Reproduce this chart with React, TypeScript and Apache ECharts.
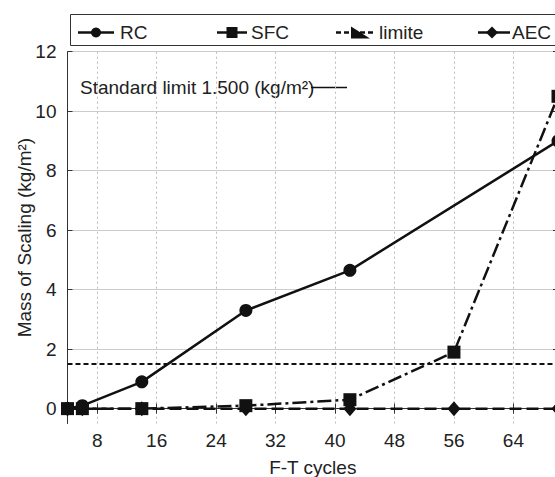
import React, { useEffect, useRef } from "react";
import * as echarts from "echarts";

// Scaling mass per freeze–thaw cycle count, by curing/treatment group
const rcCycles = [4, 6, 14, 28, 42, 70];
const rcMass = [0, 0.1, 0.9, 3.3, 4.65, 9.0];
const sfcCycles = [4, 6, 14, 28, 42, 56, 70];
const sfcMass = [0, 0, 0, 0.1, 0.3, 1.9, 10.5];
const aecCycles = [4, 6, 14, 28, 42, 56, 70];
const aecMass = [0, 0, 0, 0, 0, 0, 0];
const limitCycles = [4, 70];
const limitMass = [1.5, 1.5];

const xTicks = [8, 16, 24, 32, 40, 48, 56, 64];
const yTicks = [0, 2, 4, 6, 8, 10, 12];
const seriesNames = ["RC", "SFC", "limite", "AEC"];
const annotation = "Standard limit 1.500 (kg/m²)";

const FONT = "'Liberation Sans', Arial, Helvetica, sans-serif";
const INK = "#111";

const zip = (xs: number[], ys: number[]) => xs.map((x, i) => [x, ys[i]]);

function buildLegend(): any[] {
  const cy = 32.5;
  const txt = (x: number, s: string) => ({
    type: "text",
    x,
    y: cy,
    style: { text: s, fontSize: 19, fontFamily: FONT, fill: "#222", verticalAlign: "middle" },
  });
  const seg = (x1: number, x2: number, dash?: number[]) => ({
    type: "line",
    shape: { x1, y1: cy, x2, y2: cy },
    style: { stroke: INK, lineWidth: 2.5, lineDash: dash },
  });
  return [
    {
      type: "rect",
      shape: { x: 70.5, y: 14.5, width: 600, height: 31 },
      style: { fill: "#fff", stroke: "#333", lineWidth: 1 },
    },
    seg(78, 114),
    { type: "circle", shape: { cx: 96, cy, r: 5 }, style: { fill: INK } },
    txt(120, seriesNames[0]),
    seg(217, 247),
    { type: "rect", shape: { x: 226.5, y: cy - 5.5, width: 11, height: 11 }, style: { fill: INK } },
    txt(251, seriesNames[1]),
    seg(336, 376, [5, 3]),
    {
      type: "polygon",
      shape: { points: [[351, 26.5], [351, 38.5], [370, 38.5]] },
      style: { fill: INK },
    },
    txt(379, seriesNames[2]),
    seg(478, 510),
    {
      type: "polygon",
      shape: { points: [[492, cy - 6], [498, cy], [492, cy + 6], [486, cy]] },
      style: { fill: INK },
    },
    txt(512, seriesNames[3]),
    {
      type: "text",
      x: 80,
      y: 87,
      style: { text: annotation, fontSize: 19, fontFamily: FONT, fill: "#222", verticalAlign: "middle" },
    },
    {
      type: "line",
      shape: { x1: 311, y1: 87.5, x2: 347, y2: 87.5 },
      style: { stroke: INK, lineWidth: 1.5 },
    },
  ];
}

export default function App() {
  const ref = useRef<HTMLDivElement>(null);

  useEffect(() => {
    if (!ref.current) return;
    const chart = echarts.init(ref.current, undefined, { renderer: "svg" });

    const frameLine = { show: true, lineStyle: { color: "#333", width: 1 } };
    const labelStyle = { fontSize: 19, fontFamily: FONT, color: "#222" };

    chart.setOption({
      animation: false,
      backgroundColor: "#fff",
      // The plot's right border sits just past the visible edge.
      grid: {
        left: 67.5,
        top: 51.7,
        right: -3,
        bottom: 53.5,
        containLabel: false,
        outerBoundsMode: "none",
      },
      xAxis: [
        {
          type: "value",
          min: 4,
          max: 70,
          name: "F-T cycles",
          nameLocation: "middle",
          nameGap: 34,
          nameMoveOverlap: false,
          nameTextStyle: labelStyle,
          axisLine: frameLine,
          axisTick: { show: true, inside: true, length: 5, customValues: xTicks, lineStyle: { color: "#333" } },
          axisLabel: { ...labelStyle, margin: 7, customValues: xTicks },
          splitLine: { show: true, lineStyle: { color: "#bbb", width: 1, type: [2, 3] } },
        },
        {
          type: "value",
          position: "top",
          min: 4,
          max: 70,
          axisLine: frameLine,
          axisTick: { show: true, inside: true, length: 5, customValues: xTicks, lineStyle: { color: "#333" } },
          axisLabel: { show: false },
          splitLine: { show: false },
        },
      ],
      yAxis: [
        {
          type: "value",
          min: -0.5,
          max: 12,
          name: "Mass of Scaling (kg/m²)",
          nameLocation: "middle",
          nameGap: 34,
          nameMoveOverlap: false,
          nameTextStyle: labelStyle,
          axisLine: frameLine,
          axisTick: { show: true, inside: true, length: 5, customValues: yTicks, lineStyle: { color: "#333" } },
          axisLabel: { ...labelStyle, margin: 11, customValues: yTicks },
          splitLine: { show: true, lineStyle: { color: "#ccc", width: 1 } },
        },
        {
          type: "value",
          position: "right",
          min: -0.5,
          max: 12,
          axisLine: frameLine,
          axisTick: { show: true, inside: true, length: 5, customValues: yTicks, lineStyle: { color: "#333" } },
          axisLabel: { show: false },
          splitLine: { show: false },
        },
      ],
      series: [
        {
          name: seriesNames[0],
          type: "line",
          data: zip(rcCycles, rcMass),
          symbol: "circle",
          symbolSize: 13,
          itemStyle: { color: INK },
          lineStyle: { color: INK, width: 2.5 },
          z: 2,
        },
        {
          name: seriesNames[3],
          type: "line",
          data: zip(aecCycles, aecMass),
          symbol: "diamond",
          symbolSize: [13, 15],
          itemStyle: { color: INK },
          lineStyle: { color: INK, width: 2.5, type: [12, 5] },
          z: 3,
        },
        {
          name: seriesNames[1],
          type: "line",
          data: zip(sfcCycles, sfcMass),
          symbol: "rect",
          symbolSize: 13,
          itemStyle: { color: INK },
          lineStyle: { color: INK, width: 2.5, type: [14, 4, 3, 4] },
          z: 4,
        },
        {
          name: seriesNames[2],
          type: "line",
          data: zip(limitCycles, limitMass),
          showSymbol: false,
          symbol: "none",
          lineStyle: { color: INK, width: 2, type: [5, 3] },
          z: 1,
        },
      ],
      graphic: buildLegend(),
    });

    return () => chart.dispose();
  }, []);

  return (
    <div
      ref={ref}
      style={{ position: "fixed", left: 0, top: 0, width: 555, height: 477, background: "#fff" }}
    />
  );
}
